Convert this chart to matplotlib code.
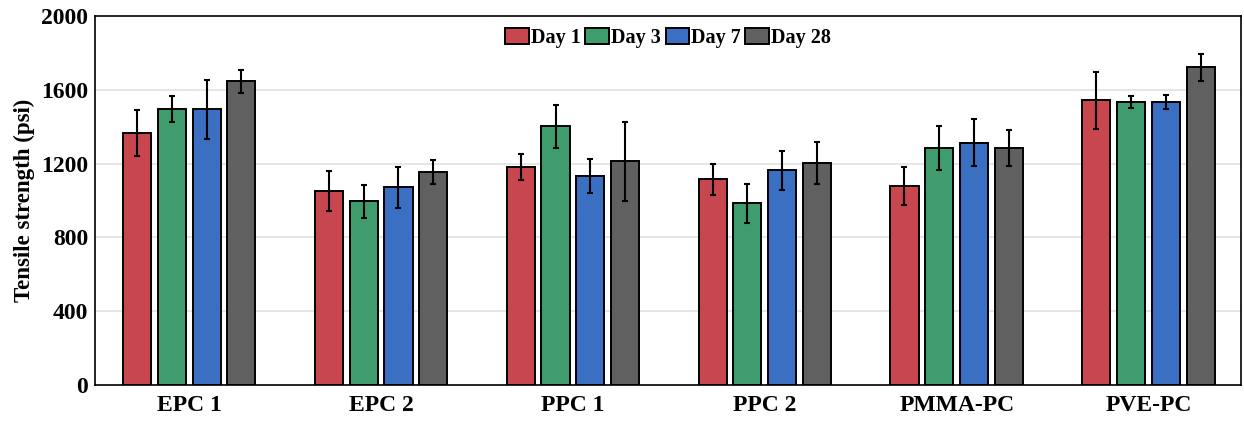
import matplotlib.pyplot as plt
import numpy as np

plt.rcParams['font.family'] = ['Liberation Serif', 'DejaVu Serif']
plt.rcParams['font.weight'] = 'bold'

# data
groups = ['EPC 1', 'EPC 2', 'PPC 1', 'PPC 2', 'PMMA-PC', 'PVE-PC']
days = ['Day 1', 'Day 3', 'Day 7', 'Day 28']

day1 = [1368, 1051, 1181, 1114, 1078, 1543]
day3 = [1495, 996, 1402, 984, 1286, 1534]
day7 = [1495, 1072, 1132, 1163, 1313, 1534]
day28 = [1645, 1152, 1212, 1203, 1286, 1721]

day1_err = [125, 110, 70, 82, 101, 154]
day3_err = [70, 90, 118, 107, 118, 33]
day7_err = [160, 110, 93, 107, 127, 38]
day28_err = [62, 65, 214, 116, 98, 74]

colors = ['#c8464e', '#3f9c6c', '#3a6fc2', '#606060']

values = [day1, day3, day7, day28]
errors = [day1_err, day3_err, day7_err, day28_err]

fig = plt.figure(figsize=(12.44, 4.21), dpi=100)
ax = fig.add_axes([95 / 1244, 36 / 421, 1146 / 1244, 369 / 421])

x = np.arange(len(groups))
step = 0.182
width = 0.146

for i, (vals, errs) in enumerate(zip(values, errors)):
    ax.bar(x + (i - 1.5) * step, vals, width, color=colors[i], edgecolor='black',
           linewidth=1.4, label=days[i], zorder=3,
           yerr=errs, error_kw=dict(ecolor='black', elinewidth=1.5, capsize=2, capthick=1.5))

ax.set_xlim(-0.49, 5.48)
ax.set_ylim(0, 2000)
ax.set_yticks([0, 400, 800, 1200, 1600, 2000])
ax.set_xticks(x)
ax.set_xticklabels(groups)
ax.tick_params(axis='both', length=0, labelsize=17)
ax.tick_params(axis='y', pad=5)
ax.tick_params(axis='x', pad=7)
ax.set_ylabel('Tensile strength (psi)', fontsize=16.5, fontweight='bold', labelpad=4)

for g in [400, 800, 1200, 1600]:
    ax.axhline(g, color='#e2e2e2', linewidth=1.2, zorder=0)

for s in ax.spines.values():
    s.set_linewidth(1.2)

ax.legend(loc='upper center', ncol=4, frameon=False, fontsize=14.5,
          handlelength=1.15, handleheight=0.8, handletextpad=0.1,
          columnspacing=0.25, borderaxespad=0.2)

fig.savefig('out.png', dpi=100)
